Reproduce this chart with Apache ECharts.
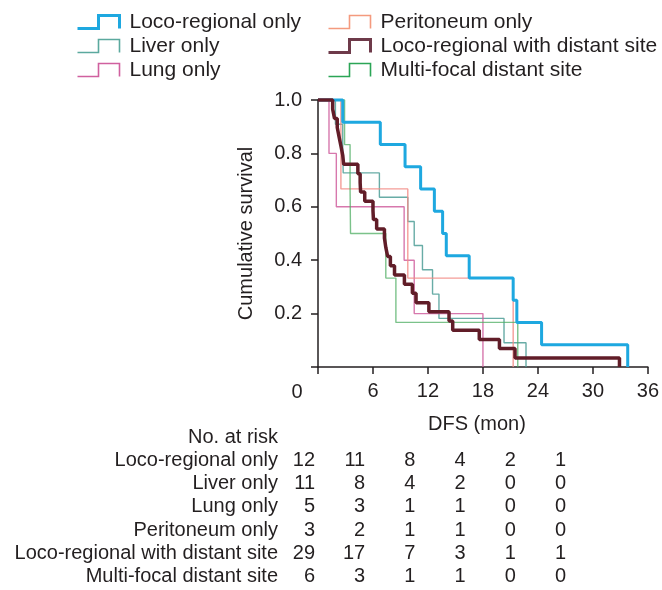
<!DOCTYPE html>
<html>
<head>
<meta charset="utf-8">
<script src="https://cdn.jsdelivr.net/npm/echarts@6/dist/echarts.min.js"></script>
<style>html,body{margin:0;padding:0;background:#fff}#c{width:662px;height:590px}</style>
</head>
<body>
<div id="c"></div>
<script>
// ---- data ----
const locoTimes = [0, 2.7, 6.8, 9.5, 11.2, 12.7, 13.6, 14.0, 16.5, 21.3, 21.7, 24.4, 33.8];
const locoSurv  = [1, 0.917, 0.833, 0.75, 0.667, 0.583, 0.5, 0.417, 0.333, 0.25, 0.167, 0.083, 0];
const liverTimes = [0, 1.9, 2.7, 2.75, 6.7, 9.8, 10.5, 11.4, 12.5, 13.2, 20.3, 22.7];
const liverSurv  = [1, 0.909, 0.818, 0.727, 0.636, 0.545, 0.455, 0.364, 0.273, 0.182, 0.091, 0];
const lungTimes = [0, 1.2, 2.0, 9.4, 10.5, 18.0];
const lungSurv  = [1, 0.8, 0.6, 0.4, 0.2, 0];
const periTimes = [0, 2.5, 9.8, 21.3];
const periSurv  = [1, 0.667, 0.333, 0];
const distTimes = [0, 1.6, 1.8, 2.1, 2.3, 2.5, 2.7, 2.8, 4.35, 4.6, 4.65, 5.1, 6.0, 6.05, 6.4, 7.25, 7.4, 7.6, 7.9, 8.35, 9.43, 10.3, 10.7, 12.1, 14.3, 14.7, 17.6, 19.8, 21.5, 32.9];
const distSurv  = [1, 0.966, 0.931, 0.897, 0.862, 0.828, 0.793, 0.759, 0.724, 0.690, 0.655, 0.621, 0.586, 0.552, 0.517, 0.483, 0.448, 0.414, 0.379, 0.345, 0.310, 0.276, 0.241, 0.207, 0.172, 0.138, 0.103, 0.069, 0.034, 0];
const multiTimes = [0, 2.9, 3.5, 3.55, 7.4, 8.5, 21.8];
const multiSurv  = [1, 0.833, 0.667, 0.5, 0.333, 0.167, 0];

const groupNames = ['Loco-regional only', 'Liver only', 'Lung only', 'Peritoneum only', 'Loco-regional with distant site', 'Multi-focal distant site'];
const xTicks = [0, 6, 12, 18, 24, 30, 36];
const yTicks = [0, 0.2, 0.4, 0.6, 0.8, 1.0];
const riskTitle = 'No. at risk';
const riskLoco  = [12, 11, 8, 4, 2, 1];
const riskLiver = [11, 8, 4, 2, 0, 0];
const riskLung  = [5, 3, 1, 1, 0, 0];
const riskPeri  = [3, 2, 1, 1, 0, 0];
const riskDist  = [29, 17, 7, 3, 1, 1];
const riskMulti = [6, 3, 1, 1, 0, 0];

// ---- build ----
const FONT = "'Liberation Sans', Arial, Helvetica, sans-serif";
const TXT = '#231F20';
const zip = (t, s) => t.map((v, i) => [v, s[i]]);

const styles = {
  'Loco-regional only': {color: '#1EA8E0', width: 3, op: 1},
  'Liver only': {color: '#4E9E96', width: 1.4, op: 0.85},
  'Lung only': {color: '#D0609F', width: 1.4, op: 0.85},
  'Peritoneum only': {color: '#F28C86', width: 1.4, op: 0.85},
  'Loco-regional with distant site': {color: '#611D28', width: 3.5, op: 1},
  'Multi-focal distant site': {color: '#4FAE63', width: 1.4, op: 0.75}
};
const legendIconColors = {
  'Loco-regional only': '#1EA8E0', 'Liver only': '#5BA99E', 'Lung only': '#D0609F',
  'Peritoneum only': '#F49A7E', 'Loco-regional with distant site': '#6E3A4A', 'Multi-focal distant site': '#2BA556'
};
const dataByName = {
  'Loco-regional only': zip(locoTimes, locoSurv),
  'Liver only': zip(liverTimes, liverSurv),
  'Lung only': zip(lungTimes, lungSurv),
  'Peritoneum only': zip(periTimes, periSurv),
  'Loco-regional with distant site': zip(distTimes, distSurv),
  'Multi-focal distant site': zip(multiTimes, multiSurv)
};
const drawOrder = ['Liver only', 'Lung only', 'Peritoneum only', 'Multi-focal distant site', 'Loco-regional only', 'Loco-regional with distant site'];
const series = drawOrder.map(n => ({
  name: n, type: 'line', step: 'end', data: dataByName[n], symbol: 'none', clip: false,
  color: styles[n].color,
  lineStyle: {color: styles[n].color, width: styles[n].width, opacity: styles[n].op},
  animation: false
}));

const ICON = 'path://M0,13 L21,13 L21,0 L42,0 L42,13';
const legendItem = n => ({
  name: n, icon: ICON,
  itemStyle: {color: 'rgba(0,0,0,0)', borderColor: legendIconColors[n], borderWidth: (n === 'Loco-regional only' || n === 'Loco-regional with distant site') ? 3 : 1.6}
});
const legendCommon = {
  orient: 'vertical', top: 10, padding: 0, itemGap: 0, itemWidth: 42, itemHeight: 13,
  selectedMode: false,
  textStyle: {fontSize: 21, fontFamily: FONT, color: TXT, lineHeight: 24, padding: [0, 0, 0, 5]}
};

const riskRows = [riskLoco, riskLiver, riskLung, riskPeri, riskDist, riskMulti];
const graphics = [];
graphics.push({type: 'text', x: 297, y: 392, style: {text: '0', fontSize: 20, fontFamily: FONT, fill: TXT, align: 'center', verticalAlign: 'middle'}});
graphics.push({type: 'text', x: 278, y: 437, style: {text: riskTitle, fontSize: 20, fontFamily: FONT, fill: TXT, align: 'right', verticalAlign: 'middle'}});
groupNames.forEach((n, r) => {
  const y = 460 + r * 23.33;
  graphics.push({type: 'text', x: 278, y: y, style: {text: n, fontSize: 20, fontFamily: FONT, fill: TXT, align: 'right', verticalAlign: 'middle'}});
  riskRows[r].forEach((v, c) => {
    graphics.push({type: 'text', x: 315 + c * 50.2, y: y, style: {text: String(v), fontSize: 20, fontFamily: FONT, fill: TXT, align: 'right', verticalAlign: 'middle'}});
  });
});

const chart = echarts.init(document.getElementById('c'), null, {renderer: 'canvas'});
chart.setOption({
  backgroundColor: '#fff',
  animation: false,
  textStyle: {fontFamily: FONT},
  grid: {left: 318, right: 13, top: 100, bottom: 223, containLabel: false},
  legend: [
    Object.assign({}, legendCommon, {left: 76, data: groupNames.slice(0, 3).map(legendItem)}),
    Object.assign({}, legendCommon, {left: 327, data: groupNames.slice(3).map(legendItem)})
  ],
  xAxis: {
    type: 'value', min: xTicks[0], max: xTicks[xTicks.length - 1], interval: 6,
    name: 'DFS (mon)', nameLocation: 'middle', nameGap: 47,
    nameTextStyle: {fontSize: 20, fontFamily: FONT, color: TXT, padding: [0, 12, 0, 0]},
    axisLine: {lineStyle: {color: TXT, width: 1.5}},
    axisTick: {length: 7, lineStyle: {color: TXT, width: 1.5}},
    axisLabel: {fontSize: 20, fontFamily: FONT, color: TXT, margin: 14, formatter: v => v === 0 ? '' : String(v)},
    splitLine: {show: false}
  },
  yAxis: {
    type: 'value', min: yTicks[0], max: yTicks[yTicks.length - 1], interval: 0.2,
    name: 'Cumulative survival', nameLocation: 'middle', nameGap: 62, nameRotate: 90,
    nameTextStyle: {fontSize: 20, fontFamily: FONT, color: TXT},
    axisLine: {show: true, lineStyle: {color: TXT, width: 1.5}},
    axisTick: {show: true, length: 7, lineStyle: {color: TXT, width: 1.5}},
    axisLabel: {fontSize: 20, fontFamily: FONT, color: TXT, margin: 16, formatter: v => v === 0 ? '' : v.toFixed(1)},
    splitLine: {show: false}
  },
  series: series,
  graphic: graphics
});
</script>
</body>
</html>
